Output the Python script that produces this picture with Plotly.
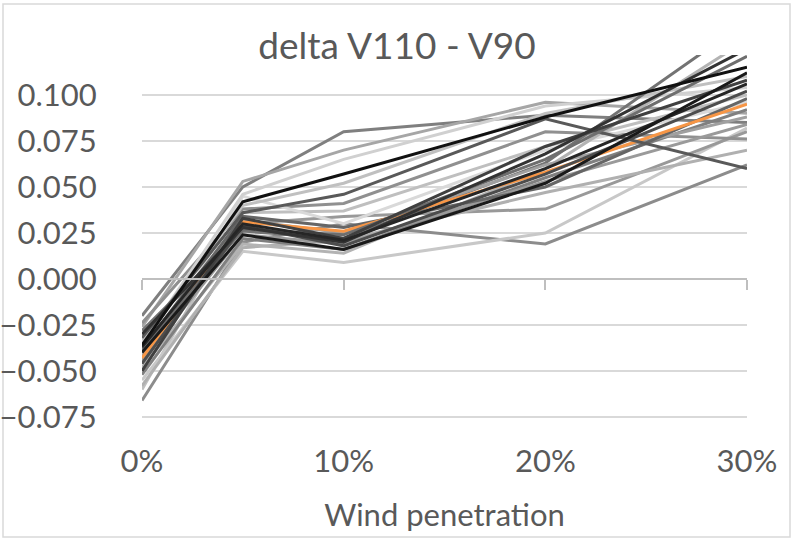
import plotly.graph_objects as go

# Wind penetration levels (fraction of demand)
penetration = [0.0, 0.05, 0.10, 0.20, 0.30]

# delta V110 - V90 for each scenario, one list per scenario
series_values = [
    [-0.020, 0.050, 0.080, 0.089, 0.085],
    [-0.026, 0.053, 0.070, 0.096, 0.090],
    [-0.060, 0.036, 0.037, 0.072, 0.100],
    [-0.066, 0.020, 0.030, 0.019, 0.062],
    [-0.055, 0.015, 0.009, 0.025, 0.082],
    [-0.045, 0.030, 0.034, 0.038, 0.080],
    [-0.058, 0.017, 0.021, 0.047, 0.070],
    [-0.024, 0.038, 0.041, 0.080, 0.076],
    [-0.050, 0.045, 0.030, 0.070, 0.096],
    [-0.035, 0.046, 0.065, 0.094, 0.104],
    [-0.033, 0.040, 0.052, 0.090, 0.110],
    [-0.048, 0.019, 0.014, 0.060, 0.130],
    [-0.028, 0.026, 0.022, 0.063, 0.140],
    [-0.052, 0.022, 0.016, 0.055, 0.092],
    [-0.042, 0.032, 0.025, 0.062, 0.088],
    [-0.044, 0.024, 0.019, 0.053, 0.084],
    [-0.038, 0.034, 0.028, 0.050, 0.098],
    [-0.043, 0.031, 0.026, 0.058, 0.095],
    [-0.032, 0.036, 0.046, 0.087, 0.060],
    [-0.039, 0.027, 0.024, 0.065, 0.121],
    [-0.046, 0.029, 0.018, 0.057, 0.102],
    [-0.050, 0.033, 0.022, 0.072, 0.108],
    [-0.030, 0.028, 0.020, 0.068, 0.125],
    [-0.037, 0.030, 0.021, 0.060, 0.106],
    [-0.040, 0.024, 0.016, 0.052, 0.112],
    [-0.036, 0.042, 0.057, 0.088, 0.115],
]
series_colors = [
    "#7f7f7f", "#a6a6a6", "#bfbfbf", "#8c8c8c", "#c8c8c8", "#999999",
    "#b0b0b0", "#909090", "#d9d9d9", "#d0d0d0", "#c0c0c0", "#b3b3b3",
    "#737373", "#808080", "#a0a0a0", "#9a9a9a", "#666666", "#f79646",
    "#595959", "#6e6e6e", "#4d4d4d", "#404040", "#333333", "#262626",
    "#1a1a1a", "#111111",
]

y_ticks = [-0.075, -0.050, -0.025, 0.000, 0.025, 0.050, 0.075, 0.100]
x_ticks = [0.0, 0.1, 0.2, 0.3]
y_range = [-0.0875, 0.1217]
x_range = [0.0, 0.3]

TEXT = "#595959"
FONT = "Lato"

fig = go.Figure()
for vals, col in zip(series_values, series_colors):
    fig.add_trace(go.Scatter(
        x=penetration, y=vals, mode="lines",
        line=dict(color=col, width=3), showlegend=False, hoverinfo="skip",
    ))

# empty trace so the secondary x axis (drawn through y = 0) gets rendered
fig.add_trace(go.Scatter(x=[None], y=[None], xaxis="x2", yaxis="y",
                         showlegend=False, hoverinfo="skip"))

W, H = 794, 543
ml, mr, mt, mb = 142, 47, 55, 103
zero_pos = (0 - y_range[0]) / (y_range[1] - y_range[0])

fig.update_layout(
    width=W, height=H,
    margin=dict(l=ml, r=mr, t=mt, b=mb),
    paper_bgcolor="white", plot_bgcolor="white",
    font=dict(family=FONT, color=TEXT, size=31),
    title=dict(text="delta V110 - V90", x=0.5, xanchor="center",
               y=1 - 46 / H, yanchor="middle", yref="container",
               font=dict(family=FONT, size=37, color=TEXT)),
    xaxis=dict(range=x_range, tickvals=x_ticks, tickformat=".0%",
               showgrid=False, zeroline=False, showline=False,
               ticks="", tickfont=dict(size=31, color=TEXT), automargin=False,
               title=dict(text="Wind penetration", standoff=26,
                          font=dict(size=31, color=TEXT))),
    xaxis2=dict(range=x_range, tickvals=x_ticks, overlaying="x",
                anchor="free", position=zero_pos, side="bottom",
                showgrid=False, zeroline=False, showline=True,
                linecolor="#bfbfbf", linewidth=1.5,
                ticks="outside", ticklen=10, tickcolor="#bfbfbf", tickwidth=1.5,
                showticklabels=False),
    yaxis=dict(range=y_range, tickvals=y_ticks, tickformat=".3f",
               showgrid=True, gridcolor="#d9d9d9", gridwidth=1.5,
               zeroline=False, showline=False, automargin=False,
               ticks="outside", ticklen=38, tickcolor="rgba(0,0,0,0)",
               tickfont=dict(size=31, color=TEXT)),
    shapes=[dict(type="rect", xref="paper", yref="paper",
                 x0=(3 - ml) / (W - ml - mr), x1=(790 - ml) / (W - ml - mr),
                 y0=(H - mb - 537) / (H - mt - mb), y1=(H - mb - 4) / (H - mt - mb),
                 line=dict(color="#d9d9d9", width=1.5), layer="below")],
)

fig.write_html("out.html")
